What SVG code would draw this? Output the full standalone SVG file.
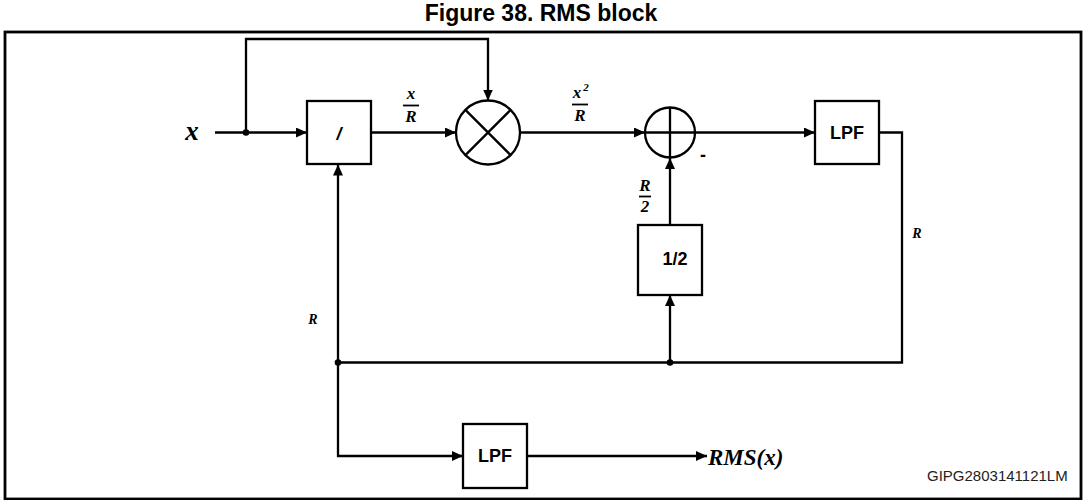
<svg xmlns="http://www.w3.org/2000/svg" width="1084" height="500" viewBox="0 0 1084 500">
<defs>
<marker id="arr" markerUnits="userSpaceOnUse" markerWidth="12" markerHeight="10" refX="11" refY="5" orient="auto">
<path d="M0,0 L11,5 L0,10 z" fill="#000"/>
</marker>
<style>
.ln{fill:none;stroke:#000;stroke-width:2.3}
.bx{fill:#fff;stroke:#000;stroke-width:2.3}
.lbl{font-family:"Liberation Sans",Arial,sans-serif;font-weight:bold;font-size:18px;fill:#000;text-anchor:middle}
.m{font-family:"Liberation Serif","DejaVu Serif",serif;font-style:italic;font-weight:bold;fill:#000;text-anchor:middle}
.ms{font-family:"Liberation Serif","DejaVu Serif",serif;font-style:italic;font-weight:bold;fill:#000;text-anchor:start}
.dot{fill:#000}
</style>
</defs>
<rect width="1084" height="500" fill="#fff"/>
<text x="541" y="21" font-family="Liberation Sans,Arial,sans-serif" font-weight="bold" font-size="23" text-anchor="middle">Figure 38. RMS block</text>
<rect x="5" y="32" width="1076" height="467" fill="none" stroke="#000" stroke-width="2.8"/>

<g id="connectors">
<path class="ln" d="M215,132.5 H307" marker-end="url(#arr)"/>
<path class="ln" d="M246,132.5 V39 H488 V100.5" marker-end="url(#arr)"/>
<path class="ln" d="M371,132.5 H456" marker-end="url(#arr)"/>
<path class="ln" d="M520,132.5 H645" marker-end="url(#arr)"/>
<path class="ln" d="M695,132.5 H815" marker-end="url(#arr)"/>
<path class="ln" d="M879,132.5 H902 V362.5 H338"/>
<path class="ln" d="M670,224 V158" marker-end="url(#arr)"/>
<path class="ln" d="M670,362.5 V295" marker-end="url(#arr)"/>
<path class="ln" d="M338,362.5 V164.5" marker-end="url(#arr)"/>
<path class="ln" d="M338,362.5 V456 H463" marker-end="url(#arr)"/>
<path class="ln" d="M527,456 H707" marker-end="url(#arr)"/>
<circle class="dot" cx="246" cy="132.5" r="3.3"/>
<circle class="dot" cx="338" cy="362.5" r="3.3"/>
<circle class="dot" cx="670" cy="362.5" r="3.3"/>
</g>

<g id="input-x"><text class="m" x="192" y="140" font-size="27">x</text></g>

<g id="divider">
<rect class="bx" x="307" y="101" width="64" height="63"/>
<text class="lbl" x="339" y="140" font-size="20" font-style="italic">/</text>
</g>

<g id="label-x-over-R">
<text class="m" x="411" y="99" font-size="17">x</text>
<line x1="403" y1="105.5" x2="419" y2="105.5" stroke="#000" stroke-width="1.8"/>
<text class="m" x="411" y="122" font-size="17">R</text>
</g>

<g id="multiplier">
<circle class="bx" cx="488" cy="132.5" r="32"/>
<path class="ln" d="M465.4,109.9 L510.6,155.1 M510.6,109.9 L465.4,155.1"/>
</g>

<g id="label-x2-over-R">
<text class="m" x="577" y="98" font-size="17">x</text>
<text class="m" x="586" y="91" font-size="11">2</text>
<line x1="572" y1="104.5" x2="588" y2="104.5" stroke="#000" stroke-width="1.8"/>
<text class="m" x="580" y="121" font-size="17">R</text>
</g>

<g id="summer">
<circle class="bx" cx="670" cy="132.5" r="25"/>
<path class="ln" d="M670,107.5 V157.5 M645,132.5 H695"/>
<text class="lbl" x="703" y="161" font-size="18">-</text>
</g>

<g id="lpf1">
<rect class="bx" x="815" y="101" width="64" height="63"/>
<text class="lbl" x="847" y="139">LPF</text>
</g>

<g id="label-R-right"><text class="m" x="917" y="238" font-size="14">R</text></g>

<g id="half">
<rect class="bx" x="638" y="225" width="64" height="70"/>
<text class="lbl" x="675" y="265">1/2</text>
</g>

<g id="label-R-over-2">
<text class="m" x="645" y="191" font-size="17">R</text>
<line x1="639" y1="196.5" x2="651" y2="196.5" stroke="#000" stroke-width="1.8"/>
<text class="m" x="645" y="212" font-size="17">2</text>
</g>

<g id="label-R-left"><text class="m" x="313" y="324" font-size="14">R</text></g>

<g id="lpf2">
<rect class="bx" x="463" y="424" width="64" height="64"/>
<text class="lbl" x="495" y="462">LPF</text>
</g>

<g id="output-rms"><text class="ms" x="708" y="465" font-size="23">RMS(x)</text></g>

<text x="927" y="481" font-family="Liberation Sans,Arial,sans-serif" font-size="15" fill="#222">GIPG2803141121LM</text>
</svg>
